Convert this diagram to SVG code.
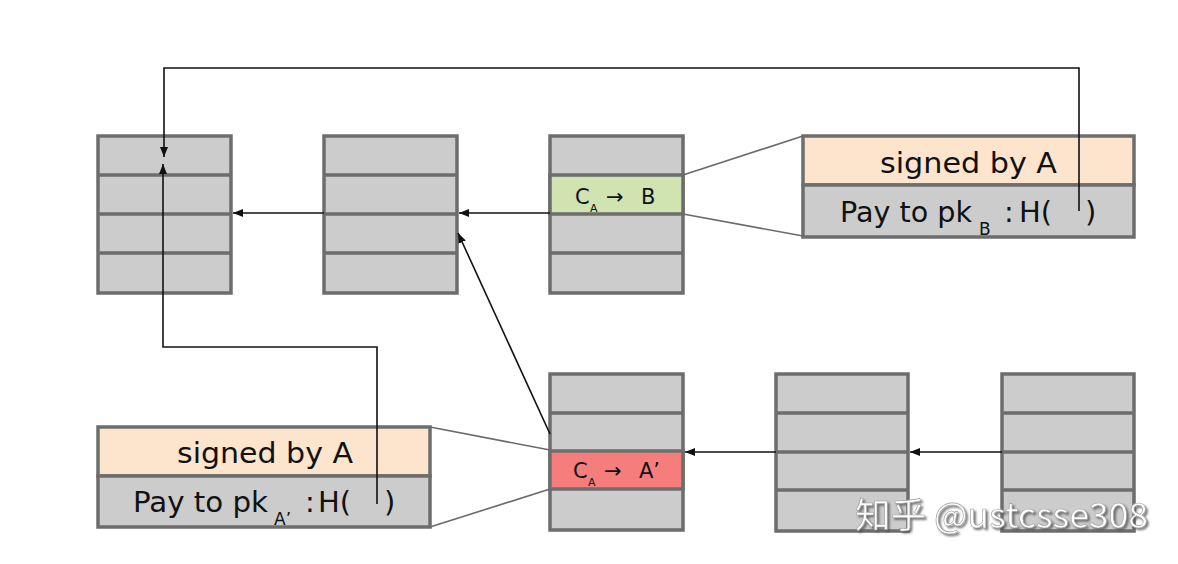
<svg xmlns="http://www.w3.org/2000/svg" width="1178" height="564" viewBox="0 0 1178 564">
  <style>
    .blk { fill: #cccccc; stroke: #6d6d6d; stroke-width: 3.5; }
    .row { stroke: #6d6d6d; stroke-width: 3.5; }
    .cell { stroke: #6d6d6d; stroke-width: 3.5; }
    .gline { stroke: #6a6a6a; stroke-width: 1.6; fill: none; }
    .arr { stroke: #111; stroke-width: 1.6; fill: none; }
    .big { font-family: "DejaVu Sans", sans-serif; font-size: 29px; fill: #111; }
    .sub { font-family: "DejaVu Sans", sans-serif; font-size: 17px; fill: #111; }
    .sm { font-family: "DejaVu Sans", sans-serif; font-size: 21px; fill: #111; }
    .smsub { font-family: "DejaVu Sans", sans-serif; font-size: 11px; fill: #111; }
    .wm { font-family: "Noto Sans CJK SC", "Noto Sans", sans-serif; font-size: 35px; fill: #ffffff; stroke: #9a9a9a; stroke-width: 0.6; }
  </style>
  <defs>
    <marker id="ah" markerUnits="userSpaceOnUse" markerWidth="12" markerHeight="10" refX="10" refY="5" orient="auto">
      <path d="M0,1 L10,5 L0,9 Z" fill="#111"/>
    </marker>
    <filter id="sh" x="-10%" y="-20%" width="120%" height="140%">
      <feDropShadow dx="2" dy="2" stdDeviation="1" flood-color="#555" flood-opacity="0.8"/>
    </filter>
  </defs>
  <rect width="1178" height="564" fill="#ffffff"/>

  <g id="block1">
    <rect class="blk" x="98" y="136" width="133" height="157"/>
    <line class="row" x1="98" y1="175" x2="231" y2="175"/>
    <line class="row" x1="98" y1="214" x2="231" y2="214"/>
    <line class="row" x1="98" y1="253" x2="231" y2="253"/>
  </g>
  <g id="block2">
    <rect class="blk" x="324" y="136" width="133" height="157"/>
    <line class="row" x1="324" y1="175" x2="457" y2="175"/>
    <line class="row" x1="324" y1="214" x2="457" y2="214"/>
    <line class="row" x1="324" y1="253" x2="457" y2="253"/>
  </g>
  <g id="block3">
    <rect class="blk" x="550" y="136" width="133" height="157"/>
    <rect x="550" y="175" width="133" height="39" fill="#d0e3b1" stroke="#6d6d6d" stroke-width="3.5"/>
    <line class="row" x1="550" y1="253" x2="683" y2="253"/>
    <text class="sm" x="575" y="204">C</text>
    <text class="smsub" x="590" y="212">A</text>
    <text class="sm" x="606" y="204">→</text>
    <text class="sm" x="641" y="204">B</text>
  </g>
  <g id="block4">
    <rect class="blk" x="550" y="374" width="133" height="156"/>
    <line class="row" x1="550" y1="413" x2="683" y2="413"/>
    <rect x="550" y="451" width="133" height="38" fill="#f57e7c" stroke="#6d6d6d" stroke-width="3.5"/>
    <text class="sm" x="573" y="478">C</text>
    <text class="smsub" x="588" y="486">A</text>
    <text class="sm" x="604" y="478">→</text>
    <text class="sm" x="639" y="478">A’</text>
  </g>
  <g id="block5">
    <rect class="blk" x="776" y="374" width="132" height="157"/>
    <line class="row" x1="776" y1="413" x2="908" y2="413"/>
    <line class="row" x1="776" y1="452" x2="908" y2="452"/>
    <line class="row" x1="776" y1="490" x2="908" y2="490"/>
  </g>
  <g id="block6">
    <rect class="blk" x="1002" y="374" width="132" height="157"/>
    <line class="row" x1="1002" y1="413" x2="1134" y2="413"/>
    <line class="row" x1="1002" y1="452" x2="1134" y2="452"/>
    <line class="row" x1="1002" y1="490" x2="1134" y2="490"/>
  </g>

  <g id="sigB">
    <rect x="803" y="136" width="331" height="49" fill="#fce4cd" class="cell"/>
    <rect x="803" y="185" width="331" height="52" fill="#cccccc" class="cell"/>
    <text class="big" x="880" y="173" textLength="177" lengthAdjust="spacingAndGlyphs">signed by A</text>
    <text class="big" x="840" y="222" textLength="132" lengthAdjust="spacingAndGlyphs">Pay to pk</text>
    <text class="sub" x="979" y="235">B</text>
    <text class="big" x="1004" y="222">:</text>
    <text class="big" x="1019" y="222">H(</text>
    <text class="big" x="1085" y="222">)</text>
  </g>
  <g id="sigA">
    <rect x="98" y="427" width="332" height="49" fill="#fce4cd" class="cell"/>
    <rect x="98" y="476" width="332" height="51" fill="#cccccc" class="cell"/>
    <text class="big" x="177" y="463" textLength="176" lengthAdjust="spacingAndGlyphs">signed by A</text>
    <text class="big" x="133" y="512" textLength="135" lengthAdjust="spacingAndGlyphs">Pay to pk</text>
    <text class="sub" x="274" y="525">A’</text>
    <text class="big" x="305" y="512">:</text>
    <text class="big" x="318" y="512">H(</text>
    <text class="big" x="384" y="512">)</text>
  </g>

  <g id="connectors">
    <line class="gline" x1="683" y1="175" x2="803" y2="136"/>
    <line class="gline" x1="683" y1="214" x2="803" y2="236"/>
    <line class="gline" x1="430" y1="427" x2="550" y2="450"/>
    <line class="gline" x1="430" y1="527" x2="550" y2="489"/>
    <path class="arr" d="M324,213 H233" marker-end="url(#ah)"/>
    <path class="arr" d="M550,213 H459" marker-end="url(#ah)"/>
    <path class="arr" d="M776,452 H685" marker-end="url(#ah)"/>
    <path class="arr" d="M1002,452 H910" marker-end="url(#ah)"/>
    <path class="arr" d="M550,434 L458,233" marker-end="url(#ah)"/>
    <path class="arr" d="M1079,211 V68 H164 V157" marker-end="url(#ah)"/>
    <path class="arr" d="M377,504 V347 H163 V164" marker-end="url(#ah)"/>
  </g>

  <text class="wm" x="855" y="528" textLength="293" lengthAdjust="spacingAndGlyphs" filter="url(#sh)">知乎 @ustcsse308</text>
</svg>
